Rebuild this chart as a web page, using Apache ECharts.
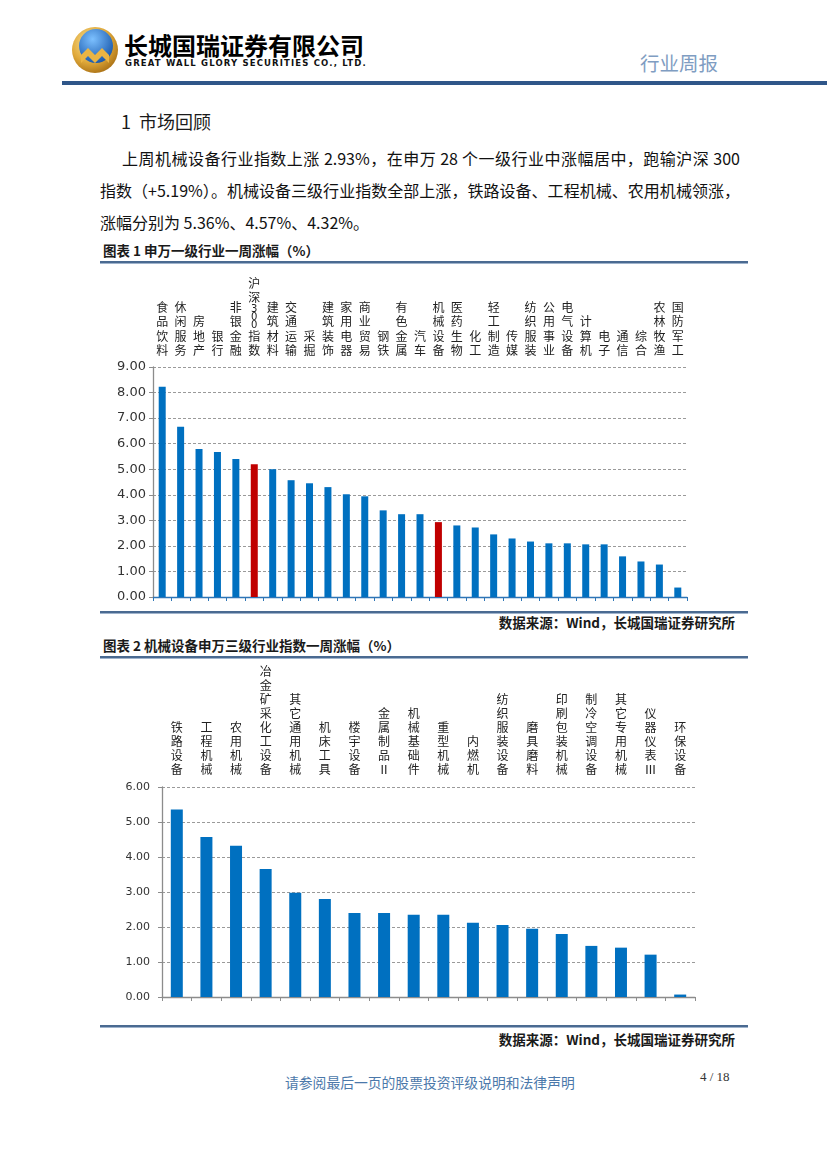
<!DOCTYPE html>
<html><head><meta charset="utf-8">
<script src="https://cdn.jsdelivr.net/npm/echarts@6/dist/echarts.min.js"></script>
<style>
html,body{margin:0;padding:0;background:#fff;}
#page{position:relative;width:827px;height:1169px;overflow:hidden;font-family:"Noto Sans CJK SC","Noto Sans",sans-serif;color:#111;}
.abs{position:absolute;white-space:nowrap;}
.rule{position:absolute;left:100px;width:648px;height:2px;background:#4a6a91;box-shadow:0 1px 0 #9fb3cc;}
.para{position:absolute;font-size:16px;line-height:22px;color:#111;white-space:nowrap;}
.just{text-align:justify;text-align-last:justify;}
.ttl{position:absolute;left:103px;font-size:13.5px;line-height:18px;font-weight:bold;color:#1a1a1a;white-space:nowrap;}
.src{position:absolute;right:92px;font-size:13.5px;line-height:18px;font-weight:bold;color:#1a1a1a;white-space:nowrap;}
</style></head>
<body>
<div id="page">
  <svg class="abs" style="left:71px;top:26px" width="48" height="48" viewBox="0 0 48 48">
    <defs>
      <radialGradient id="g1" cx="40%" cy="35%" r="70%"><stop offset="0" stop-color="#fbe7a0"/><stop offset="0.6" stop-color="#e0a93a"/><stop offset="1" stop-color="#a86f14"/></radialGradient>
      <radialGradient id="b1" cx="40%" cy="30%" r="75%"><stop offset="0" stop-color="#7cc0ff"/><stop offset="1" stop-color="#1554a8"/></radialGradient>
    </defs>
    <circle cx="24" cy="24" r="23" fill="url(#g1)"/>
    <circle cx="25" cy="20" r="17" fill="url(#b1)"/>
    <path d="M10 29 L17 22 L24 29 L31 22 L38 29 L38 37 L31 30 L24 37 L17 30 L10 37Z" fill="#eab443"/>
  </svg>
  <div class="abs" style="left:124px;top:30px;font-size:24px;line-height:30px;font-weight:bold;color:#000;">长城国瑞证券有限公司</div>
  <div class="abs" style="left:125px;top:58px;font-size:8.5px;line-height:11px;font-weight:bold;color:#111;letter-spacing:1.15px;font-family:'DejaVu Sans',sans-serif;">GREAT WALL GLORY SECURITIES CO., LTD.</div>
  <div class="abs" style="left:640px;top:51px;font-size:19.5px;line-height:24px;color:#7f9dc2;">行业周报</div>
  <div class="abs" style="left:62px;top:81px;width:765px;height:4px;background:#2f5689;"></div>

  <div class="abs" style="left:121px;top:109px;font-size:18px;line-height:24px;color:#1a1a1a;">1&nbsp;&nbsp;市场回顾</div>
  <div class="para just" style="left:122px;top:147px;width:618px;">上周机械设备行业指数上涨 2.93%，在申万 28 个一级行业中涨幅居中，跑输沪深 300</div>
  <div class="para just" style="left:100px;top:179px;width:640px;">指数（+5.19%）。机械设备三级行业指数全部上涨，铁路设备、工程机械、农用机械领涨，</div>
  <div class="para" style="left:100px;top:211px;">涨幅分别为 5.36%、4.57%、4.32%。</div>

  <div class="ttl" style="top:241px;">图表 1 申万一级行业一周涨幅（%）</div>
  <div class="rule" style="top:261px;"></div>
  <div id="c1" class="abs" style="left:0;top:265px;width:827px;height:345px;"></div>
  <div class="rule" style="top:611px;"></div>
  <div class="src" style="top:613px;">数据来源：Wind，长城国瑞证券研究所</div>

  <div class="ttl" style="top:636px;">图表 2 机械设备申万三级行业指数一周涨幅（%）</div>
  <div class="rule" style="top:656px;"></div>
  <div id="c2" class="abs" style="left:0;top:659px;width:827px;height:364px;"></div>
  <div class="rule" style="top:1025px;"></div>
  <div class="src" style="top:1030px;">数据来源：Wind，长城国瑞证券研究所</div>

  <div class="abs" style="left:285px;top:1073px;font-size:13.8px;line-height:18px;color:#4b78aa;">请参阅最后一页的股票投资评级说明和法律声明</div>
  <div class="abs" style="left:700px;top:1069px;font-size:13px;line-height:16px;color:#333;font-family:'Liberation Serif',serif;">4 / 18</div>
</div>
<script>
const cat1 = ['食品饮料','休闲服务','房地产','银行','非银金融','沪深300指数','建筑材料','交通运输','采掘','建筑装饰','家用电器','商业贸易','钢铁','有色金属','汽车','机械设备','医药生物','化工','轻工制造','传媒','纺织服装','公用事业','电气设备','计算机','电子','通信','综合','农林牧渔','国防军工'];
const val1 = [8.23,6.66,5.79,5.67,5.40,5.19,5.00,4.57,4.45,4.30,4.02,3.94,3.39,3.24,3.24,2.93,2.80,2.72,2.45,2.29,2.17,2.10,2.10,2.06,2.06,1.59,1.39,1.27,0.37];
const highlight1 = ['沪深300指数','机械设备'];

const cat2 = ['铁路设备','工程机械','农用机械','冶金矿采化工设备','其它通用机械','机床工具','楼宇设备','金属制品Ⅱ','机械基础件','重型机械','内燃机','纺织服装设备','磨具磨料','印刷包装机械','制冷空调设备','其它专用机械','仪器仪表Ⅲ','环保设备'];
const val2 = [5.36,4.57,4.32,3.66,2.98,2.80,2.40,2.40,2.35,2.35,2.12,2.06,1.95,1.80,1.46,1.41,1.21,0.07];

const BLUE = '#0070C0', RED = '#C00000';

function vertRich(v){
  return v.split('').map(function(ch){
    return /[0-9]/.test(ch) ? '{d|'+ch+'}' : '{c|'+ch+'}';
  }).join('\n');
}

function makeOption(cats, vals, cfg){
  return {
    animation:false,
    grid:{left:cfg.left, right:cfg.right, top:cfg.top, bottom:cfg.bottom, containLabel:false},
    xAxis:[
      {type:'category', data:cats, position:'bottom', boundaryGap:true,
       axisLine:{show:true, lineStyle:{color:cfg.xLine, width:1.3}},
       axisTick:{show:true, length:4, alignWithLabel:false, interval:0, lineStyle:{color:cfg.xLine}},
       axisLabel:{show:false}, splitLine:{show:false}},
      {type:'category', data:cats, position:'top', boundaryGap:true,
       axisLine:{show:false}, axisTick:{show:false}, splitLine:{show:false},
       axisLabel:{show:true, interval:0, margin:cfg.labMargin, verticalAlign:'bottom', align:'center',
         formatter:vertRich,
         rich:{
           c:{fontSize:12, lineHeight:cfg.lh, color:'#222', fontFamily:'Noto Sans CJK SC', align:'center'},
           d:{fontSize:10, lineHeight:8, color:'#222', fontFamily:'DejaVu Sans', align:'center'}
         }}}
    ],
    yAxis:{type:'value', min:0, max:cfg.max, interval:1,
      axisLine:{show:true, lineStyle:{color:'#8c8c8c', width:1.3}},
      axisTick:{show:true, length:4, lineStyle:{color:'#8c8c8c'}},
      axisLabel:{formatter:function(v){return v.toFixed(2);}, fontSize:cfg.yFont, color:'#333', margin:cfg.yMargin, fontFamily:'DejaVu Sans'},
      splitLine:{show:true, lineStyle:{type:[3,2], color:'#9a9a9a', width:1}}},
    series:[{type:'bar', xAxisIndex:0, barWidth:cfg.barWidth,
      data: vals.map(function(v,i){
        return {value:v, itemStyle:{color: (cfg.hi && cfg.hi.indexOf(cats[i])>=0) ? RED : BLUE}};
      })}]
  };
}

const ch1 = echarts.init(document.getElementById('c1'));
ch1.setOption(makeOption(cat1, val1, {left:153, right:140, top:102, bottom:13, max:9, xLine:'#2e75b6',
  labMargin:9, lh:14.5, barWidth:7, yFont:13, yMargin:7, hi:highlight1}));

const ch2 = echarts.init(document.getElementById('c2'));
ch2.setOption(makeOption(cat2, val2, {left:162, right:132, top:128, bottom:26, max:6, xLine:'#8c8c8c',
  labMargin:11, lh:14, barWidth:12, yFont:11, yMargin:12, hi:[]}));
</script>
</body></html>
